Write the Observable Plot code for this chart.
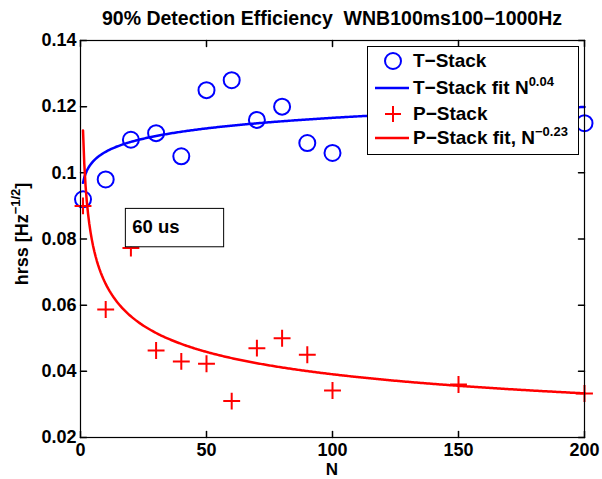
<!DOCTYPE html>
<html>
<head>
<meta charset="utf-8">
<script src="https://cdn.jsdelivr.net/npm/d3@7"></script>
<script src="https://cdn.jsdelivr.net/npm/@observablehq/plot@0.6"></script>
<style>
  html, body { margin: 0; padding: 0; background: #fff; }
  #wrap { position: relative; width: 602px; height: 479px; font-family: "Liberation Sans", Arial, Helvetica, sans-serif; font-weight: bold; color: #000; }
  #wrap svg { position: absolute; left: 0; top: 0; }
  .title { position: absolute; left: 80px; width: 504px; top: 7px; text-align: center; font-size: 19.5px; white-space: pre; }
  .xlab { position: absolute; left: 80px; width: 504px; top: 459.8px; text-align: center; font-size: 17px; line-height: 19px; }
  .ylab { position: absolute; left: 22px; top: 234px; transform: translate(-50%, -50%) rotate(-90deg); font-size: 18px; white-space: nowrap; }
  sup { font-size: 13px; vertical-align: 8px; line-height: 0; }
  .legend { position: absolute; left: 367px; top: 46px; width: 210px; height: 107px; border: 1px solid #000; background: #fff; font-size: 19px; }
  .row { position: absolute; left: 0; height: 24px; width: 210px; }
  .row svg { position: absolute; left: 0; top: 0; }
  .row span { position: absolute; left: 45px; top: 1px; white-space: nowrap; }
</style>
</head>
<body>
<div id="wrap"></div>
<script>
// ---- data ----
const titleText = "90% Detection Efficiency  WNB100ms100\u22121000Hz";
const tStackN = [1, 10, 20, 30, 40, 50, 60, 70, 80, 90, 100, 200];
const tStackH = [0.092, 0.098, 0.110, 0.112, 0.105, 0.125, 0.128, 0.116, 0.120, 0.109, 0.106, 0.115];
const pStackN = [1, 10, 20, 30, 40, 50, 60, 70, 80, 90, 100, 150, 200];
const pStackH = [0.090, 0.0587, 0.0773, 0.0463, 0.043, 0.0423, 0.031, 0.047, 0.050, 0.045, 0.0342, 0.036, 0.0333];
// power-law fits h = coef * N^exp
const tFitCoef = 0.097, tFitExp = 0.04;
const pFitCoef = 0.1128, pFitExp = -0.23;
const fitRange = [1, 200];
const xTicks = [0, 50, 100, 150, 200];
const yTicks = [0.02, 0.04, 0.06, 0.08, 0.10, 0.12, 0.14];
const noteText = "60 us";
const noteBox = {x1: 18, x2: 57, y1: 0.0775, y2: 0.0891, tx: 20.5, ty: 0.0836};

const blue = "#0000ff", red = "#ff0000";

const tData = tStackN.map((n, i) => ({N: n, h: tStackH[i]}));
const pData = pStackN.map((n, i) => ({N: n, h: pStackH[i]}));
const fitN = d3.range(fitRange[0], fitRange[1] + 0.001, 0.5);
const tFit = fitN.map(n => ({N: n, h: tFitCoef * Math.pow(n, tFitExp)}));
const pFit = fitN.map(n => ({N: n, h: pFitCoef * Math.pow(n, pFitExp)}));

const tickLen = 6;
const shapeH = {draw(c, l) { c.moveTo(0, 0); c.lineTo(l, 0); }};
const shapeHn = {draw(c, l) { c.moveTo(0, 0); c.lineTo(-l, 0); }};
const shapeV = {draw(c, l) { c.moveTo(0, 0); c.lineTo(0, -l); }};
const shapeVn = {draw(c, l) { c.moveTo(0, 0); c.lineTo(0, l); }};

const chart = Plot.plot({
  width: 602,
  height: 479,
  marginLeft: 80,
  marginRight: 18,
  marginTop: 40,
  marginBottom: 42,
  style: {fontFamily: '"Liberation Sans", Arial, sans-serif', fontSize: "18px", fontWeight: "bold", color: "#000", background: "transparent", overflow: "visible"},
  x: {domain: [0, 200]},
  y: {domain: [0.02, 0.14]},
  marks: [
    Plot.axisX(xTicks, {tickSize: 0, tickPadding: 6, label: null, fontSize: 18}),
    Plot.axisY(yTicks, {tickSize: 0, tickPadding: 4, label: null, fontSize: 18, tickFormat: d => String(+d.toFixed(2))}),
    Plot.vector(xTicks, {x: d => d, frameAnchor: "bottom", anchor: "start", length: tickLen, shape: shapeV, stroke: "black"}),
    Plot.vector(xTicks, {x: d => d, frameAnchor: "top", anchor: "start", length: tickLen, shape: shapeVn, stroke: "black"}),
    Plot.vector(yTicks, {y: d => d, frameAnchor: "left", anchor: "start", length: tickLen, shape: shapeH, stroke: "black"}),
    Plot.vector(yTicks, {y: d => d, frameAnchor: "right", anchor: "start", length: tickLen, shape: shapeHn, stroke: "black"}),
    Plot.dot(tData, {x: "N", y: "h", r: 8, stroke: blue, strokeWidth: 2, fill: "none"}),
    Plot.line(tFit, {x: "N", y: "h", stroke: blue, strokeWidth: 2.5}),
    Plot.dot(pData, {x: "N", y: "h", r: 5.5, symbol: "plus", stroke: red, strokeWidth: 2}),
    Plot.line(pFit, {x: "N", y: "h", stroke: red, strokeWidth: 2.5}),
    Plot.rect([noteBox], {x1: "x1", x2: "x2", y1: "y1", y2: "y2", fill: "white", stroke: "black", strokeWidth: 1}),
    Plot.text([noteBox], {x: "tx", y: "ty", text: () => noteText, textAnchor: "start", fontSize: 18.5, fontWeight: "bold", fill: "black"}),
    Plot.frame({stroke: "black", strokeWidth: 1.2})
  ]
});

const wrap = document.getElementById("wrap");
wrap.appendChild(chart);

function addDiv(cls, html) {
  const d = document.createElement("div");
  d.className = cls;
  d.innerHTML = html;
  wrap.appendChild(d);
  return d;
}
addDiv("title", titleText);
addDiv("xlab", "N");
addDiv("ylab", "hrss [Hz<sup>\u22121/2</sup>]");

// legend
const legendItems = [
  {label: "T\u2212Stack", kind: "circle", color: blue},
  {label: "T\u2212Stack fit N<sup>" + tFitExp.toFixed(2) + "</sup>", kind: "line", color: blue},
  {label: "P\u2212Stack", kind: "plus", color: red},
  {label: "P\u2212Stack fit, N<sup>\u2212" + Math.abs(pFitExp).toFixed(2) + "</sup>", kind: "line", color: red}
];
const rowTops = [2, 29, 55, 79];
const legend = addDiv("legend", "");
legendItems.forEach((it, i) => {
  const row = document.createElement("div");
  row.className = "row";
  row.style.top = rowTops[i] + "px";
  let sym = "";
  if (it.kind === "circle") sym = `<circle cx="25" cy="12" r="8" fill="none" stroke="${it.color}" stroke-width="2"/>`;
  if (it.kind === "line") sym = `<line x1="7" x2="41" y1="12" y2="12" stroke="${it.color}" stroke-width="2.5"/>`;
  if (it.kind === "plus") sym = `<path d="M17,12H33M25,4V20" stroke="${it.color}" stroke-width="2"/>`;
  row.innerHTML = `<svg width="45" height="24">${sym}</svg><span>${it.label}</span>`;
  legend.appendChild(row);
});
</script>
</body>
</html>
